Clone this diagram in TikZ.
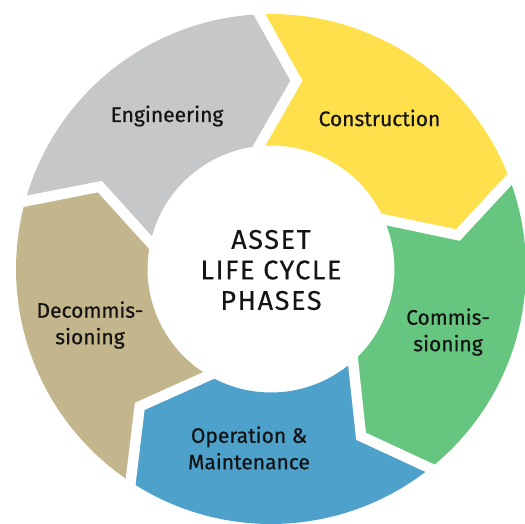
\documentclass[tikz,border=0pt]{standalone}
\usepackage{fontspec}
\setmainfont{Fira Sans}
\newfontfamily\lblfont[FakeBold=0.6]{Fira Sans}
\newfontfamily\ctrfont[LetterSpace=6,FakeBold=0.3]{Fira Sans}
\definecolor{cgrey}{HTML}{C6C7C9}
\definecolor{cyellow}{HTML}{FEE04D}
\definecolor{cgreen}{HTML}{66C67F}
\definecolor{cblue}{HTML}{4DA1CB}
\definecolor{ctan}{HTML}{C3B68D}
\definecolor{ctext}{HTML}{141414}
\tikzset{
  lbl/.style={align=center, text=ctext, font=\lblfont\fontsize{21}{26.5}\selectfont, inner sep=0pt},
  ctr/.style={align=center, text=ctext, font=\ctrfont\fontsize{27}{30.5}\selectfont, inner sep=0pt},
  gap/.style={white, line width=10.5, line cap=rect, line join=miter}
}
\begin{document}
\begin{tikzpicture}[x=1pt,y=1pt]
\useasboundingbox (-271,-254) rectangle (254,269);
\def\Ro{255}
\def\Rm{190}
\def\Ri{123.5}
\foreach \k/\col in {0/cgrey,1/cyellow,2/cgreen,3/cblue,4/ctan} {
  \pgfmathsetmacro\ta{154.3-72*\k}
  \pgfmathsetmacro\tb{\ta-72}
  \fill[\col] ({\ta+10.3}:\Ro) arc[start angle={\ta+10.3}, end angle={\tb+10.3}, radius=\Ro]
    -- (\tb:\Rm) -- ({\tb+13.3}:\Ri)
    arc[start angle={\tb+13.3}, end angle={\ta+13.3}, radius=\Ri]
    -- (\ta:\Rm) -- cycle;
}
\foreach \k in {0,...,4} {
  \pgfmathsetmacro\ta{154.3-72*\k}
  \draw[gap] ({\ta+10.3}:\Ro) -- (\ta:\Rm) -- ({\ta+13.3}:\Ri);
}
\node[lbl] (eng) at (-104,153) {Engineering};
\node[lbl] (con) at (108.5,151) {Construction};
\node[lbl] (com) at (177,-63) {Commis-\\sioning};
\node[lbl] (op) at (-22,-179) {Operation \&\\Maintenance};
\node[lbl] (dec) at (-181,-56) {Decommis-\\sioning};
\node[ctr] (center) at (0,-1) {ASSET\\LIFE CYCLE\\PHASES};
\end{tikzpicture}
\end{document}
